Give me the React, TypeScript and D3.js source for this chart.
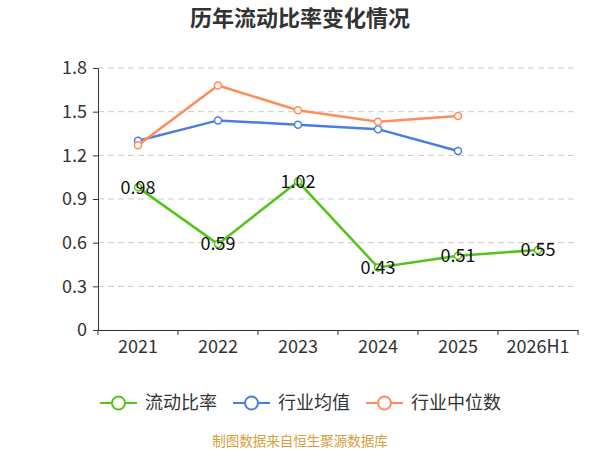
import React, { useRef, useEffect } from 'react';
import * as d3 from 'd3';

const years = ['2021', '2022', '2023', '2024', '2025', '2026H1'];
const currentRatio = [0.98, 0.59, 1.02, 0.43, 0.51, 0.55];
const industryMean = [1.3, 1.44, 1.41, 1.38, 1.23];
const industryMedian = [1.27, 1.68, 1.51, 1.43, 1.47];
const yTicks = [0, 0.3, 0.6, 0.9, 1.2, 1.5, 1.8];

const seriesNames = ['流动比率', '行业均值', '行业中位数'];
const seriesColors = ['#52c41a', '#4a7ee0', '#ff8c5a'];

const FONT = '"Microsoft YaHei", "Noto Sans CJK SC", "Noto Sans", sans-serif';

const App: React.FC = () => {
  const svgRef = useRef<SVGSVGElement | null>(null);

  useEffect(() => {
    const svg = d3.select(svgRef.current!);
    svg.selectAll('*').remove();

    const x = d3.scaleBand<string>().domain(years).range([98, 578]);
    const y = d3.scaleLinear().domain([0, 1.8]).range([330, 68]);

    svg.append('text')
      .attr('x', 300).attr('y', 26)
      .attr('text-anchor', 'middle')
      .attr('font-family', FONT)
      .attr('font-size', 22).attr('font-weight', 'bold')
      .attr('fill', '#333')
      .text('历年流动比率变化情况');

    // grid
    svg.append('g').selectAll('line')
      .data(yTicks.filter((t) => t > 0))
      .enter().append('line')
      .attr('x1', 98).attr('x2', 578)
      .attr('y1', (d) => y(d)).attr('y2', (d) => y(d))
      .attr('stroke', '#ccc').attr('stroke-dasharray', '6,4');

    const yAxis = svg.append('g')
      .attr('transform', 'translate(98,0)')
      .call(d3.axisLeft(y).tickValues(yTicks).tickFormat((d) => (d === 0 ? '0' : d3.format('.1f')(d as number))).tickSize(5).tickPadding(6));
    yAxis.select('.domain').attr('stroke', '#333');
    yAxis.selectAll('line').attr('stroke', '#333');
    yAxis.selectAll('text').attr('font-size', 18).attr('fill', '#333').attr('font-family', FONT);

    const xAxis = svg.append('g')
      .attr('transform', 'translate(0,330)')
      .call(d3.axisBottom(x).tickSize(0).tickPadding(10));
    xAxis.select('.domain').attr('stroke', '#333');
    xAxis.selectAll('text').attr('font-size', 18).attr('fill', '#333').attr('font-family', FONT);
    xAxis.append('g').selectAll('line')
      .data(years.map((d) => x(d)!).concat([578]))
      .enter().append('line')
      .attr('x1', (d) => d).attr('x2', (d) => d)
      .attr('y1', 0).attr('y2', 5)
      .attr('stroke', '#333');

    const cx = (i: number) => x(years[i])! + x.bandwidth() / 2;
    const line = d3.line<number>().x((_, i) => cx(i)).y((d) => y(d));

    const allSeries = [currentRatio, industryMean, industryMedian];
    allSeries.forEach((values, si) => {
      const g = svg.append('g');
      g.append('path')
        .datum(values)
        .attr('d', line)
        .attr('fill', 'none')
        .attr('stroke', seriesColors[si])
        .attr('stroke-width', 2.5);
      g.selectAll('circle')
        .data(values)
        .enter().append('circle')
        .attr('cx', (_, i) => cx(i))
        .attr('cy', (d) => y(d))
        .attr('r', 3.5)
        .attr('fill', '#fff')
        .attr('stroke', seriesColors[si])
        .attr('stroke-width', 1.5);
    });

    svg.append('g').selectAll('text')
      .data(currentRatio)
      .enter().append('text')
      .attr('x', (_, i) => cx(i))
      .attr('y', (d) => y(d))
      .attr('dy', '0.35em')
      .attr('text-anchor', 'middle')
      .attr('font-family', FONT)
      .attr('font-size', 18)
      .attr('fill', '#111')
      .text((d) => d3.format('.2f')(d));

    // legend
    const legendX = [100, 233, 366];
    seriesNames.forEach((name, i) => {
      const g = svg.append('g').attr('transform', `translate(${legendX[i]},403)`);
      g.append('line').attr('x1', 0).attr('x2', 37).attr('y1', 0).attr('y2', 0)
        .attr('stroke', seriesColors[i]).attr('stroke-width', 2);
      g.append('circle').attr('cx', 18.5).attr('cy', 0).attr('r', 6.5)
        .attr('fill', '#fff').attr('stroke', seriesColors[i]).attr('stroke-width', 2);
      g.append('text').attr('x', 45).attr('y', 0).attr('dy', '0.35em')
        .attr('font-family', FONT).attr('font-size', 18).attr('fill', '#333')
        .text(name);
    });

    svg.append('text')
      .attr('x', 300).attr('y', 446)
      .attr('text-anchor', 'middle')
      .attr('font-family', FONT)
      .attr('font-size', 13.5)
      .attr('fill', '#d4a03c')
      .text('制图数据来自恒生聚源数据库');
  }, []);

  return (
    <svg ref={svgRef} width={600} height={450} style={{ position: 'absolute', left: 0, top: 0, background: '#fff' }} />
  );
};

export default App;
